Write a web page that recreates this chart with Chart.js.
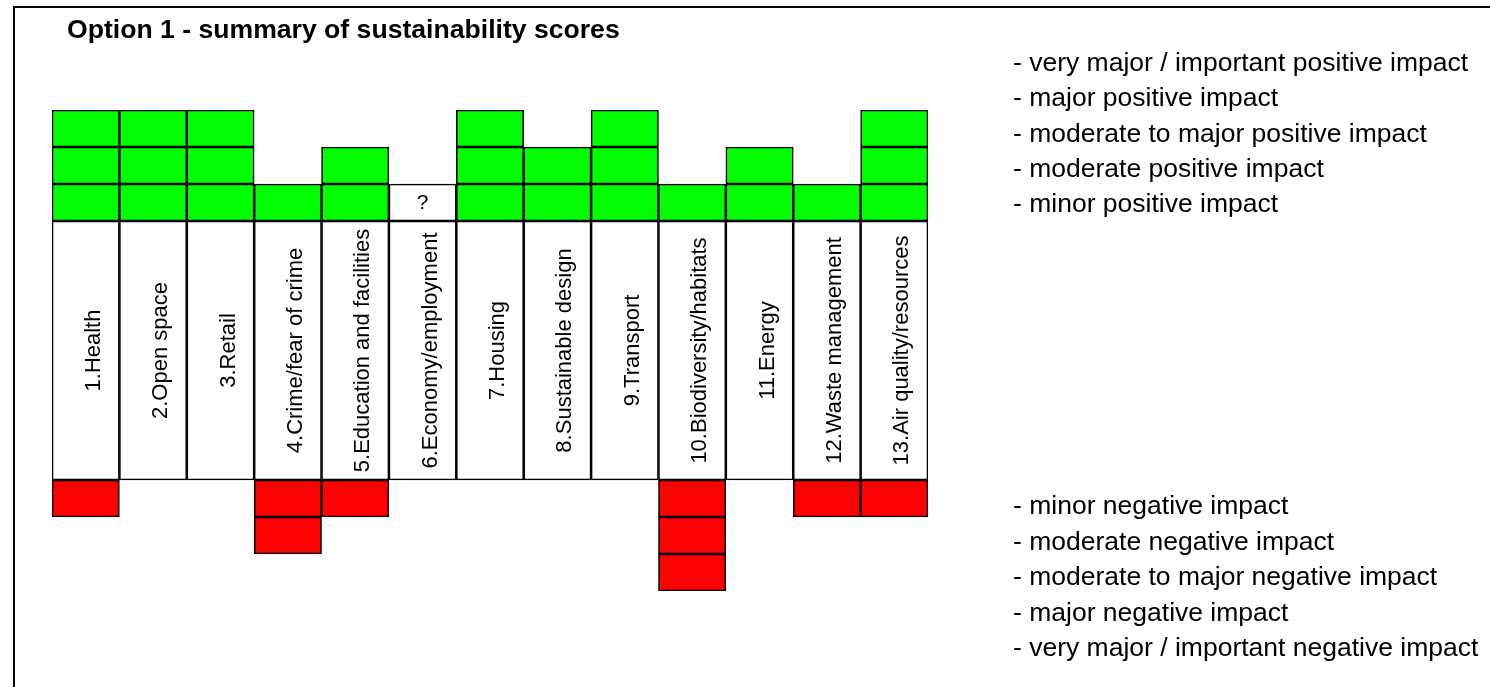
<!DOCTYPE html>
<html>
<head>
<meta charset="utf-8">
<title>Option 1 - summary of sustainability scores</title>
<script src="https://cdn.jsdelivr.net/npm/chart.js@4.4.1/dist/chart.umd.min.js"></script>
<style>
    html, body { margin: 0; padding: 0; background: #fff; }
    body { width: 1490px; height: 687px; position: relative; overflow: hidden; font-family: 'Liberation Sans', Arial, sans-serif; }
    #frame { position: absolute; left: 13px; top: 6px; width: 1500px; height: 700px; border-left: 2px solid #000; border-top: 2px solid #000; }
    #title { position: absolute; left: 67px; top: 16px; font-size: 26.6px; font-weight: bold; line-height: 27px; color: #000; white-space: nowrap; }
    .note { position: absolute; left: 1013px; font-size: 26.5px; line-height: 36px; color: #000; white-space: nowrap; }
    #chartBox { position: absolute; left: 0; top: 0; width: 1490px; height: 687px; }
</style>
</head>
<body>
<div id="frame"></div>
<div id="chartBox"><canvas id="scoresChart"></canvas></div>
<div id="title">Option 1 - summary of sustainability scores</div>
<div id="notes"></div>

<script>
// Datos del gráfico
const categorias = ['1.Health', '2.Open space', '3.Retail', '4.Crime/fear of crime', '5.Education and facilities',
    '6.Economy/employment', '7.Housing', '8.Sustainable design', '9.Transport', '10.Biodiversity/habitats',
    '11.Energy', '12.Waste management', '13.Air quality/resources'];
const positivos = [3, 3, 3, 1, 2, 0, 3, 2, 3, 1, 2, 1, 3];
const negativos = [1, 0, 0, 2, 1, 0, 0, 0, 0, 3, 0, 1, 1];
const desconocido = [false, false, false, false, false, true, false, false, false, false, false, false, false];
const notasPositivas = ['- very major / important positive impact', '- major positive impact',
    '- moderate to major positive impact', '- moderate positive impact', '- minor positive impact'];
const notasNegativas = ['- minor negative impact', '- moderate negative impact',
    '- moderate to major negative impact', '- major negative impact', '- very major / important negative impact'];

const ALTO_ETIQUETA = 7;   // alto de la caja de la etiqueta en celdas
const NIVELES = 3;

// Notas de la derecha
function drawNotes() {
    const cont = document.getElementById('notes');
    notasPositivas.forEach((t, i) => {
        const d = document.createElement('div');
        d.className = 'note';
        d.style.top = (44 + i * 35.3) + 'px';
        d.textContent = t;
        cont.appendChild(d);
    });
    notasNegativas.forEach((t, i) => {
        const d = document.createElement('div');
        d.className = 'note';
        d.style.top = (487 + i * 35.5) + 'px';
        d.textContent = t;
        cont.appendChild(d);
    });
}

// Armar datasets
function buildDatasets() {
    const base = {
        borderColor: '#000',
        borderWidth: 1.6,
        borderSkipped: false,
        categoryPercentage: 1,
        barPercentage: 1,
        stack: 's'
    };
    const ds = [];
    // caja de etiqueta
    ds.push(Object.assign({}, base, {
        label: 'label',
        data: categorias.map(() => -ALTO_ETIQUETA),
        backgroundColor: '#fff'
    }));
    // celdas rojas
    for (let n = 1; n <= NIVELES; n++) {
        ds.push(Object.assign({}, base, {
            label: 'neg' + n,
            data: negativos.map(v => v >= n ? -1 : null),
            backgroundColor: '#ff0000'
        }));
    }
    // celda "?"
    ds.push(Object.assign({}, base, {
        label: 'unknown',
        data: desconocido.map(v => v ? 1 : null),
        backgroundColor: '#fff'
    }));
    // celdas verdes
    for (let n = 1; n <= NIVELES; n++) {
        ds.push(Object.assign({}, base, {
            label: 'pos' + n,
            data: positivos.map(v => v >= n ? 1 : null),
            backgroundColor: '#00ff00'
        }));
    }
    return ds;
}

// Texto dentro de las cajas
const textPlugin = {
    id: 'textPlugin',
    afterDatasetsDraw(chart) {
        const ctx = chart.ctx;
        const x = chart.scales.x, y = chart.scales.y;
        ctx.save();
        ctx.fillStyle = '#000';
        ctx.textAlign = 'center';
        ctx.textBaseline = 'middle';
        categorias.forEach((c, i) => {
            const px = x.getPixelForValue(i);
            const py = y.getPixelForValue(-ALTO_ETIQUETA / 2);
            ctx.save();
            ctx.font = "22px 'Liberation Sans', Arial, sans-serif";
            ctx.translate(px, py);
            ctx.rotate(-Math.PI / 2);
            ctx.fillText(c, 0, 8);
            ctx.restore();
            if (desconocido[i]) {
                ctx.font = "21px 'Liberation Sans', Arial, sans-serif";
                ctx.fillText('?', px, y.getPixelForValue(0.5) + 1);
            }
        });
        ctx.restore();
    }
};

function initChart() {
    const ctx = document.getElementById('scoresChart').getContext('2d');
    new Chart(ctx, {
        type: 'bar',
        data: {
            labels: categorias,
            datasets: buildDatasets()
        },
        options: {
            responsive: false,
            animation: false,
            layout: {
                padding: { left: 52, right: 562, top: 110, bottom: 96 }
            },
            plugins: {
                legend: { display: false },
                tooltip: { enabled: false }
            },
            scales: {
                x: { display: false, stacked: true, grid: { display: false } },
                y: { display: false, stacked: true, min: -ALTO_ETIQUETA - NIVELES, max: NIVELES }
            }
        },
        plugins: [textPlugin]
    });
}

document.addEventListener('DOMContentLoaded', function() {
    const canvas = document.getElementById('scoresChart');
    canvas.width = 1490;
    canvas.height = 687;
    drawNotes();
    initChart();
});
</script>
</body>
</html>
